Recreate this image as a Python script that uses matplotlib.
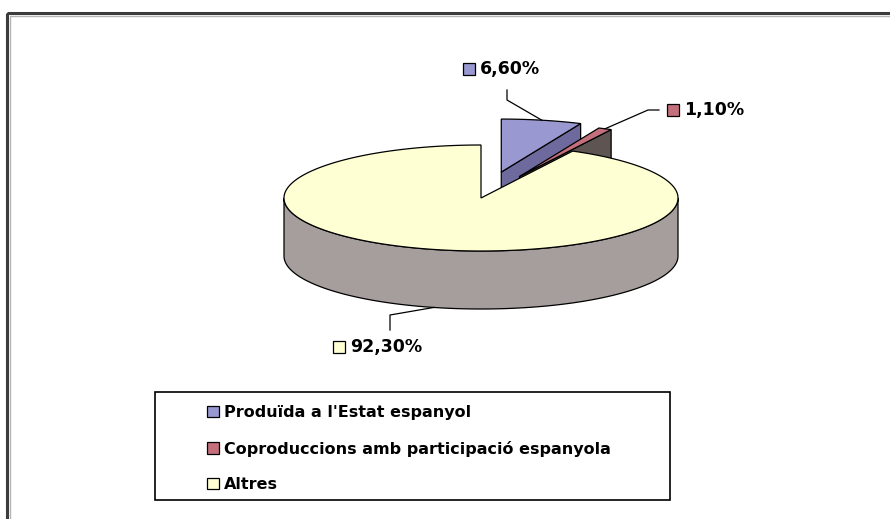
import numpy as np
import matplotlib.pyplot as plt
from matplotlib.patches import Polygon, Rectangle, Patch

# Dades del gràfic
categories = ["Produïda a l'Estat espanyol",
              "Coproduccions amb participació espanyola",
              "Altres"]
values = [6.6, 1.1, 92.3]
value_labels = ["6,60%", "1,10%", "92,30%"]
explode = [0.5, 0.45, 0.0]

top_colors = ['#9a98d0', '#c4707c', '#ffffd4']
side_colors = ['#6e6a9e', '#5e5553', '#a59e9c']

# Geometria del pastís 3D (en píxels)
cx, cy = 481, 198
ra, rb = 197, 53
depth = 58

fig = plt.figure(figsize=(8.9, 5.19), dpi=100)
ax = fig.add_axes([0, 0, 1, 1])
ax.set_xlim(0, 890)
ax.set_ylim(519, 0)
ax.axis('off')

# Marc exterior
ax.add_patch(Rectangle((7, 13), 900, 520, fill=False, edgecolor='#3c3c3c', lw=2.2))
ax.add_patch(Rectangle((9.5, 15.5), 900, 520, fill=False, edgecolor='#b4b4b4', lw=1))


def pt(theta, off, dz=0.0):
    t = np.radians(theta)
    return (cx + off[0] + ra * np.cos(t), cy + off[1] - rb * np.sin(t) + dz)


# Angles (sentit horari des de les 12)
fracs = np.array(values) / sum(values) * 360
ends = 90 - np.concatenate([[0], np.cumsum(fracs)])
slices = []
for i in range(len(values)):
    hi, lo = ends[i], ends[i + 1]
    mid = np.radians((hi + lo) / 2)
    off = (explode[i] * ra * np.cos(mid), -explode[i] * rb * np.sin(mid))
    slices.append((lo, hi, off))

for i, (lo, hi, off) in enumerate(slices):
    c0 = (cx + off[0], cy + off[1])
    # cares radials visibles
    for ang, vis in [(lo, np.cos(np.radians(lo)) > 1e-6), (hi, np.cos(np.radians(hi)) < -1e-6)]:
        if vis:
            p = pt(ang, off)
            q = pt(ang, off, depth)
            poly = [c0, p, q, (c0[0], c0[1] + depth)]
            ax.add_patch(Polygon(poly, closed=True, facecolor=side_colors[i],
                                 edgecolor='black', lw=0.9))
    # costat exterior (part frontal)
    a0, a1 = max(lo, -180), min(hi, 0)
    if a1 > a0:
        th = np.linspace(a0, a1, 200)
        top = [pt(t, off) for t in th]
        bot = [pt(t, off, depth) for t in th[::-1]]
        ax.add_patch(Polygon(top + bot, closed=True, facecolor=side_colors[i],
                             edgecolor='black', lw=0.9))
    # cara superior
    th = np.linspace(lo, hi, 300)
    poly = [c0] + [pt(t, off) for t in th]
    ax.add_patch(Polygon(poly, closed=True, facecolor=top_colors[i],
                         edgecolor='black', lw=0.9))

# Etiquetes de dades amb línies guia
label_pos = [(463, 69), (667, 110), (333, 347)]
elbows = [[(507, 90), (507, 100)], [(659, 110), (648, 110)], [(390, 330), (390, 315)]]
for i, (lo, hi, off) in enumerate(slices):
    mid = (lo + hi) / 2
    if i == 2:
        end = pt(mid, off, depth)
    else:
        end = pt(mid, off)
    pts = elbows[i] + [end]
    ax.plot([p[0] for p in pts], [p[1] for p in pts], color='black', lw=0.9)
    lx, ly = label_pos[i]
    ax.add_patch(Rectangle((lx, ly - 6), 12, 12, facecolor=top_colors[i],
                           edgecolor='black', lw=0.9))
    ax.text(lx + 17, ly, value_labels[i], fontsize=12.5, fontweight='bold',
            va='center', ha='left', color='black')

# Llegenda
ax.add_patch(Rectangle((155, 392), 515, 108, fill=False, edgecolor='black', lw=1.2))
handles = [Patch(facecolor=c, edgecolor='black', lw=0.9) for c in top_colors]
leg = ax.legend(handles, categories, loc='upper left',
                bbox_to_anchor=(196 / 890, 1 - 394 / 519), frameon=False,
                prop={'size': 11.5, 'weight': 'bold'},
                handlelength=0.75, handleheight=0.75, handletextpad=0.3,
                labelspacing=1.28, borderpad=0.2)

fig.savefig('out.png', dpi=100, facecolor='white')
